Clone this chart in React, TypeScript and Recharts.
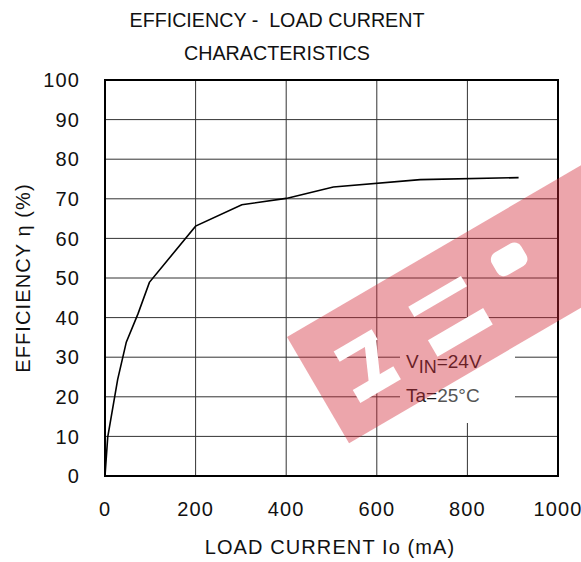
import React from 'react';
import {
  LineChart,
  Line,
  XAxis,
  YAxis,
  CartesianGrid,
  ReferenceArea,
} from 'recharts';

// load current (mA) and efficiency (%)
const loadCurrent = [0, 6, 28, 47, 73, 98, 200, 302, 400, 504, 696, 913];
const efficiency = [0, 9.8, 24.4, 33.8, 41, 48.9, 63.1, 68.5, 70.1, 73.0, 74.85, 75.35];

const xTicks = [0, 200, 400, 600, 800, 1000];
const yTicks = [0, 10, 20, 30, 40, 50, 60, 70, 80, 90, 100];

const titleLines = ['EFFICIENCY -  LOAD CURRENT', 'CHARACTERISTICS'];
const xLabel = 'LOAD CURRENT Io (mA)';
const yLabel = 'EFFICIENCY η (%)';

const data = loadCurrent.map((io, i) => ({ io, eff: efficiency[i] }));

const FONT = '"Liberation Sans", Arial, Helvetica, sans-serif';
const W = 581;
const H = 562;

function Overlay() {
  return (
    <svg
      width={W}
      height={H}
      style={{ position: 'absolute', left: 0, top: 0, pointerEvents: 'none' }}
      fontFamily={FONT}
    >
      {titleLines.map((t, i) => (
        <text
          key={t}
          x={277}
          y={27 + i * 33}
          textAnchor="middle"
          fontSize={19.7}
          fill="#111"
          style={{ whiteSpace: 'pre' }}
        >
          {t}
        </text>
      ))}
      <text x={330} y={554} textAnchor="middle" fontSize={20} letterSpacing={1.1} fill="#111">
        {xLabel}
      </text>
      <text
        x={0}
        y={0}
        transform="translate(30,278) rotate(-90)"
        textAnchor="middle"
        fontSize={20}
        letterSpacing={1.1}
        fill="#111"
      >
        {yLabel}
      </text>

      {/* condition box */}
      <rect x={400} y={336} width={115} height={87} fill="#fff" />
      <text x={406} y={368} fontSize={19} fill="#1a1a1a">
        V<tspan dy={5} fontSize={18}>IN</tspan>
        <tspan dy={-5}>=24V</tspan>
      </text>
      <text x={406} y={402} fontSize={19} fill="#1a1a1a">
        Ta=<tspan fill="#555">25°C</tspan>
      </text>

      {/* watermark */}
      <g transform="translate(287,337) rotate(-30.3)">
        <rect x={0} y={0} width={460} height={123} fill="rgb(210,40,55)" opacity={0.42} />
        <rect x={33} y={36} width={44} height={12} fill="#fff" />
        <polygon points="64,44 77,44 60,82 47,82" fill="#fff" />
        <rect x={30} y={79} width={47} height={15} fill="#fff" />
        <rect x={120} y={35} width={61} height={12} fill="#fff" />
        <rect x={120} y={74} width={64} height={19} fill="#fff" />
        <rect x={214} y={32} width={34} height={26} rx={8} fill="#fff" />
      </g>
    </svg>
  );
}

export default function App() {
  return (
    <div style={{ position: 'absolute', left: 0, top: 0, width: W, height: H, background: '#fff' }}>
      <LineChart
        width={W}
        height={H}
        data={data}
        margin={{ top: 80, right: 23, bottom: 0, left: 0 }}
        style={{ fontFamily: FONT }}
      >
        <CartesianGrid stroke="#333" strokeWidth={1} />
        <XAxis
          dataKey="io"
          type="number"
          domain={[0, 1000]}
          ticks={xTicks}
          interval={0}
          height={86}
          axisLine={false}
          tickLine={false}
          tickSize={0}
          tickMargin={26}
          tick={{ fill: '#111', fontSize: 20, letterSpacing: 1.1 }}
        />
        <YAxis
          type="number"
          domain={[0, 100]}
          ticks={yTicks}
          interval={0}
          width={105}
          axisLine={false}
          tickLine={false}
          tickSize={0}
          tickMargin={25}
          tick={{ fill: '#111', fontSize: 20, letterSpacing: 1.1 }}
        />
        <ReferenceArea
          x1={0}
          x2={1000}
          y1={0}
          y2={100}
          fill="none"
          fillOpacity={0}
          stroke="#000"
          strokeWidth={2}
          ifOverflow="visible"
        />
        <Line
          type="linear"
          dataKey="eff"
          stroke="#000"
          strokeWidth={1.6}
          dot={false}
          isAnimationActive={false}
        />
      </LineChart>
      <Overlay />
    </div>
  );
}
